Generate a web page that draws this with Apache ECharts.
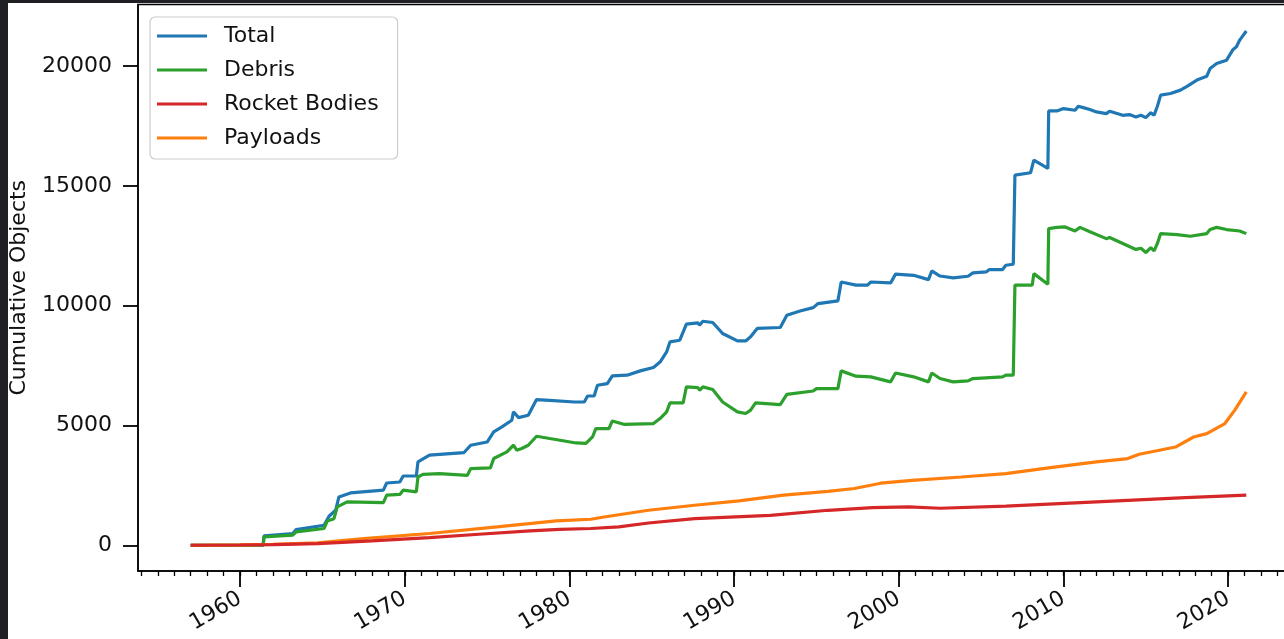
<!DOCTYPE html>
<html>
<head>
<meta charset="utf-8">
<script src="https://cdn.jsdelivr.net/npm/echarts@6/dist/echarts.min.js"></script>
<style>
html, body { margin: 0; padding: 0; background: #1f2024; width: 1284px; height: 639px; overflow: hidden; }
#chart { position: absolute; left: 8px; top: 3px; width: 1276px; height: 636px; background: #fff; }
</style>
</head>
<body>
<div id="chart"></div>
<script>
// cumulative objects in orbit, [year, count]
var totalData = [
	[1957.0, 0], [1961.4, 0], [1961.45, 390], [1963.2, 490], [1963.4, 655], [1965.1, 835], [1965.4, 1210],
	[1965.8, 1460], [1966.0, 2015], [1966.7, 2185], [1968.7, 2300], [1968.9, 2600], [1969.7, 2640],
	[1969.9, 2890], [1970.7, 2890], [1970.8, 3480], [1971.5, 3760], [1973.6, 3870], [1974.0, 4175],
	[1975.0, 4310], [1975.4, 4730], [1975.9, 4940], [1976.5, 5220], [1976.6, 5570], [1976.9, 5330],
	[1977.5, 5430], [1978.0, 6080], [1978.8, 6050], [1980.3, 5980], [1980.9, 5980], [1981.1, 6230],
	[1981.5, 6230], [1981.7, 6680], [1982.3, 6750], [1982.6, 7070], [1983.5, 7100], [1984.3, 7280],
	[1985.1, 7420], [1985.5, 7650], [1985.9, 8070], [1986.1, 8490], [1986.7, 8560], [1987.1, 9230],
	[1987.8, 9280], [1987.9, 9190], [1988.1, 9350], [1988.7, 9300], [1989.3, 8840], [1990.2, 8530],
	[1990.7, 8530], [1991.0, 8700], [1991.4, 9050], [1992.8, 9090], [1993.2, 9600], [1994.0, 9780],
	[1994.8, 9920], [1995.1, 10090], [1996.3, 10200], [1996.5, 10990], [1997.4, 10860], [1998.1, 10860],
	[1998.3, 10990], [1999.5, 10950], [1999.8, 11320], [2000.9, 11270], [2001.8, 11090], [2002.0, 11450],
	[2002.5, 11240], [2003.3, 11160], [2004.2, 11230], [2004.5, 11370], [2005.3, 11410], [2005.5, 11510],
	[2006.3, 11510], [2006.5, 11690], [2006.95, 11730], [2007.05, 15450], [2008.0, 15550], [2008.2, 16080],
	[2009.05, 15730], [2009.1, 18130], [2009.6, 18130], [2010.0, 18230], [2010.7, 18160], [2010.9, 18330],
	[2011.2, 18270], [2011.6, 18190], [2012.0, 18090], [2012.6, 18020], [2012.8, 18120], [2013.6, 17950],
	[2014.0, 17980], [2014.4, 17880], [2014.7, 17950], [2015.0, 17850], [2015.3, 18060], [2015.5, 17950],
	[2015.7, 18330], [2015.9, 18790], [2016.5, 18860], [2017.1, 19000], [2017.5, 19160], [2018.1, 19420],
	[2018.7, 19580], [2018.9, 19900], [2019.3, 20110], [2019.9, 20250], [2020.3, 20700], [2020.5, 20810],
	[2020.7, 21090], [2021.1, 21470]
];

var debrisData = [
	[1957.0, 0], [1961.4, 0], [1961.45, 350], [1963.2, 420], [1963.4, 560], [1965.1, 700], [1965.3, 1015],
	[1965.7, 1110], [1965.9, 1600], [1966.5, 1810], [1968.7, 1780], [1968.9, 2090], [1969.7, 2120],
	[1969.9, 2300], [1970.7, 2230], [1970.8, 2850], [1971.1, 2960], [1972.1, 2990], [1973.8, 2920],
	[1974.0, 3200], [1975.2, 3230], [1975.4, 3620], [1976.2, 3900], [1976.6, 4175], [1976.8, 3970],
	[1977.1, 4040], [1977.5, 4175], [1978.0, 4550], [1978.8, 4455], [1980.4, 4270], [1981.0, 4250],
	[1981.4, 4520], [1981.6, 4870], [1982.4, 4870], [1982.6, 5190], [1983.3, 5050], [1985.1, 5080],
	[1985.5, 5290], [1985.9, 5570], [1986.1, 5940], [1986.9, 5940], [1987.1, 6610], [1987.8, 6580],
	[1987.9, 6470], [1988.1, 6610], [1988.7, 6500], [1989.3, 5980], [1990.2, 5570], [1990.7, 5500],
	[1991.0, 5640], [1991.3, 5940], [1992.8, 5870], [1993.2, 6300], [1994.8, 6440], [1995.0, 6540],
	[1996.3, 6540], [1996.5, 7280], [1997.4, 7060], [1998.3, 7030], [1999.5, 6820], [1999.8, 7190],
	[2000.9, 7030], [2001.8, 6820], [2002.0, 7190], [2002.5, 6960], [2003.3, 6820], [2004.2, 6860],
	[2004.5, 6960], [2006.3, 7030], [2006.5, 7100], [2006.95, 7100], [2007.05, 10860], [2008.1, 10860],
	[2008.2, 11340], [2009.05, 10900], [2009.1, 13220], [2009.6, 13270], [2010.1, 13290], [2010.7, 13120],
	[2011.0, 13270], [2011.6, 13090], [2012.6, 12800], [2012.8, 12850], [2013.6, 12600], [2014.4, 12350],
	[2014.7, 12400], [2015.0, 12220], [2015.3, 12430], [2015.5, 12290], [2015.7, 12600], [2015.9, 13010],
	[2016.9, 12970], [2017.7, 12900], [2018.7, 13010], [2018.9, 13180], [2019.3, 13270], [2019.9, 13180],
	[2020.7, 13120], [2021.1, 13010]
];

var rocketData = [
	[1957.0, 0], [1960.0, 10], [1962.0, 30], [1964.7, 70], [1968.0, 180], [1971.5, 320], [1974.5, 460],
	[1977.6, 600], [1979.4, 660], [1981.3, 700], [1983.0, 765], [1984.8, 930], [1987.6, 1110],
	[1992.2, 1250], [1995.7, 1460], [1998.4, 1570], [2000.6, 1600], [2002.5, 1545], [2006.5, 1630],
	[2012.0, 1810], [2017.4, 1990], [2021.1, 2090]
];

var payloadData = [
	[1957.0, 0], [1960.0, 15], [1962.0, 40], [1964.7, 100], [1967.5, 280], [1971.5, 490], [1975.6, 765],
	[1979.2, 1015], [1981.3, 1085], [1982.1, 1180], [1984.8, 1460], [1987.6, 1670], [1990.3, 1850],
	[1993.0, 2090], [1995.7, 2250], [1997.3, 2370], [1998.9, 2590], [2000.8, 2710], [2003.8, 2850],
	[2006.5, 2990], [2009.2, 3240], [2012.0, 3480], [2013.9, 3620], [2014.6, 3800], [2016.8, 4100],
	[2017.9, 4520], [2018.7, 4660], [2019.8, 5080], [2020.4, 5640], [2021.1, 6400]
];

var seriesNames = ["Total", "Debris", "Rocket Bodies", "Payloads"];
// tick ranges: first / last labelled tick and the step between them
var yearTicks = [1960, 2020, 10];
var minorYearTicks = [1954, 2024, 1];
var countTicks = [0, 20000, 5000];

var font = "DejaVu Sans";
var xMin = 1953.8, xMax = 2024.3;
var yMin = -1075, yMax = 22575;

// plot box inside the chart div
var plotLeft = 130, plotWidth = 1161, plotTop = 1.5, plotHeight = 566.5;

function xPos(v) { return plotLeft + (v - xMin) / (xMax - xMin) * plotWidth; }
function yPos(v) { return plotTop + (yMax - v) / (yMax - yMin) * plotHeight; }

var chart = echarts.init(document.getElementById("chart"));

function lineSeries(name, data, color, z) {
	return {
		name: name,
		type: "line",
		data: data,
		xAxisIndex: 0,
		yAxisIndex: 0,
		showSymbol: false,
		symbol: "none",
		z: z,
		lineStyle: { color: color, width: 3.2 },
		itemStyle: { color: color },
		animation: false
	};
}

function hiddenAxis(grid) {
	return { type: "value", gridIndex: grid, show: false, min: 0, max: 1 };
}

var labelStyle = { fontFamily: font, fontSize: 22, color: "#111" };

var option = {
	animation: false,
	textStyle: { fontFamily: font },
	grid: [{
		// main plot
		left: plotLeft, top: plotTop, width: plotWidth, height: plotHeight,
		outerBoundsMode: "none", containLabel: false,
		show: true, borderColor: "#000", borderWidth: 1.5, backgroundColor: "transparent"
	}, {
		// decade ticks and labels
		left: xPos(yearTicks[0]), width: xPos(yearTicks[1]) - xPos(yearTicks[0]),
		top: plotTop, height: plotHeight,
		outerBoundsMode: "none", containLabel: false, show: false
	}, {
		// yearly minor ticks
		left: xPos(minorYearTicks[0]), width: xPos(minorYearTicks[1]) - xPos(minorYearTicks[0]),
		top: plotTop, height: plotHeight,
		outerBoundsMode: "none", containLabel: false, show: false
	}, {
		// count ticks and labels
		left: plotLeft, width: plotWidth,
		top: yPos(countTicks[1]), height: yPos(countTicks[0]) - yPos(countTicks[1]),
		outerBoundsMode: "none", containLabel: false, show: false
	}],
	legend: {
		orient: "vertical",
		left: 142, top: 14,
		data: seriesNames,
		icon: "rect",
		itemWidth: 50, itemHeight: 3,
		itemGap: 12,
		padding: [8, 19, 10, 7],
		backgroundColor: "#fff",
		borderColor: "#cccccc",
		borderWidth: 1.2,
		borderRadius: 5,
		textStyle: { fontFamily: font, fontSize: 22, color: "#111", padding: [0, 0, 0, 12] }
	},
	xAxis: [{
		type: "value", gridIndex: 0,
		min: xMin, max: xMax,
		position: "bottom",
		splitLine: { show: false },
		axisLine: { show: true, onZero: false, lineStyle: { color: "#000", width: 1.5 } },
		axisTick: { show: false },
		axisLabel: { show: false }
	}, {
		type: "value", gridIndex: 1,
		min: yearTicks[0], max: yearTicks[1], interval: yearTicks[2],
		position: "bottom",
		splitLine: { show: false },
		axisLine: { show: false, onZero: false },
		axisTick: { show: true, length: 16, lineStyle: { color: "#000", width: 1.8 } },
		axisLabel: {
			rotate: 30, margin: 26,
			fontFamily: font, fontSize: 22, color: "#111",
			formatter: function(v) { return String(v); }
		}
	}, {
		type: "value", gridIndex: 2,
		min: minorYearTicks[0], max: minorYearTicks[1], interval: minorYearTicks[2],
		position: "bottom",
		splitLine: { show: false },
		axisLine: { show: false, onZero: false },
		axisTick: { show: true, length: 5, lineStyle: { color: "#000", width: 1.3 } },
		axisLabel: { show: false }
	},
		hiddenAxis(3)
	],
	yAxis: [{
		type: "value", gridIndex: 0,
		min: yMin, max: yMax,
		position: "left",
		name: "Cumulative Objects",
		nameLocation: "middle",
		nameGap: 108,
		nameTextStyle: labelStyle,
		splitLine: { show: false },
		axisLine: { show: true, onZero: false, lineStyle: { color: "#000", width: 1.5 } },
		axisTick: { show: false },
		axisLabel: { show: false }
	},
		hiddenAxis(1),
		hiddenAxis(2),
	{
		type: "value", gridIndex: 3,
		min: countTicks[0], max: countTicks[1], interval: countTicks[2],
		position: "left",
		splitLine: { show: false },
		axisLine: { show: false, onZero: false },
		axisTick: { show: true, length: 15, lineStyle: { color: "#000", width: 1.8 } },
		axisLabel: {
			margin: 26,
			fontFamily: font, fontSize: 22, color: "#111",
			formatter: function(v) { return String(v); }
		}
	}],
	series: [
		lineSeries("Total", totalData, "#1f77b4", 2),
		lineSeries("Debris", debrisData, "#2ca02c", 3),
		lineSeries("Payloads", payloadData, "#ff7f0e", 4),
		lineSeries("Rocket Bodies", rocketData, "#d62728", 5)
	]
};

chart.setOption(option);
</script>
</body>
</html>
